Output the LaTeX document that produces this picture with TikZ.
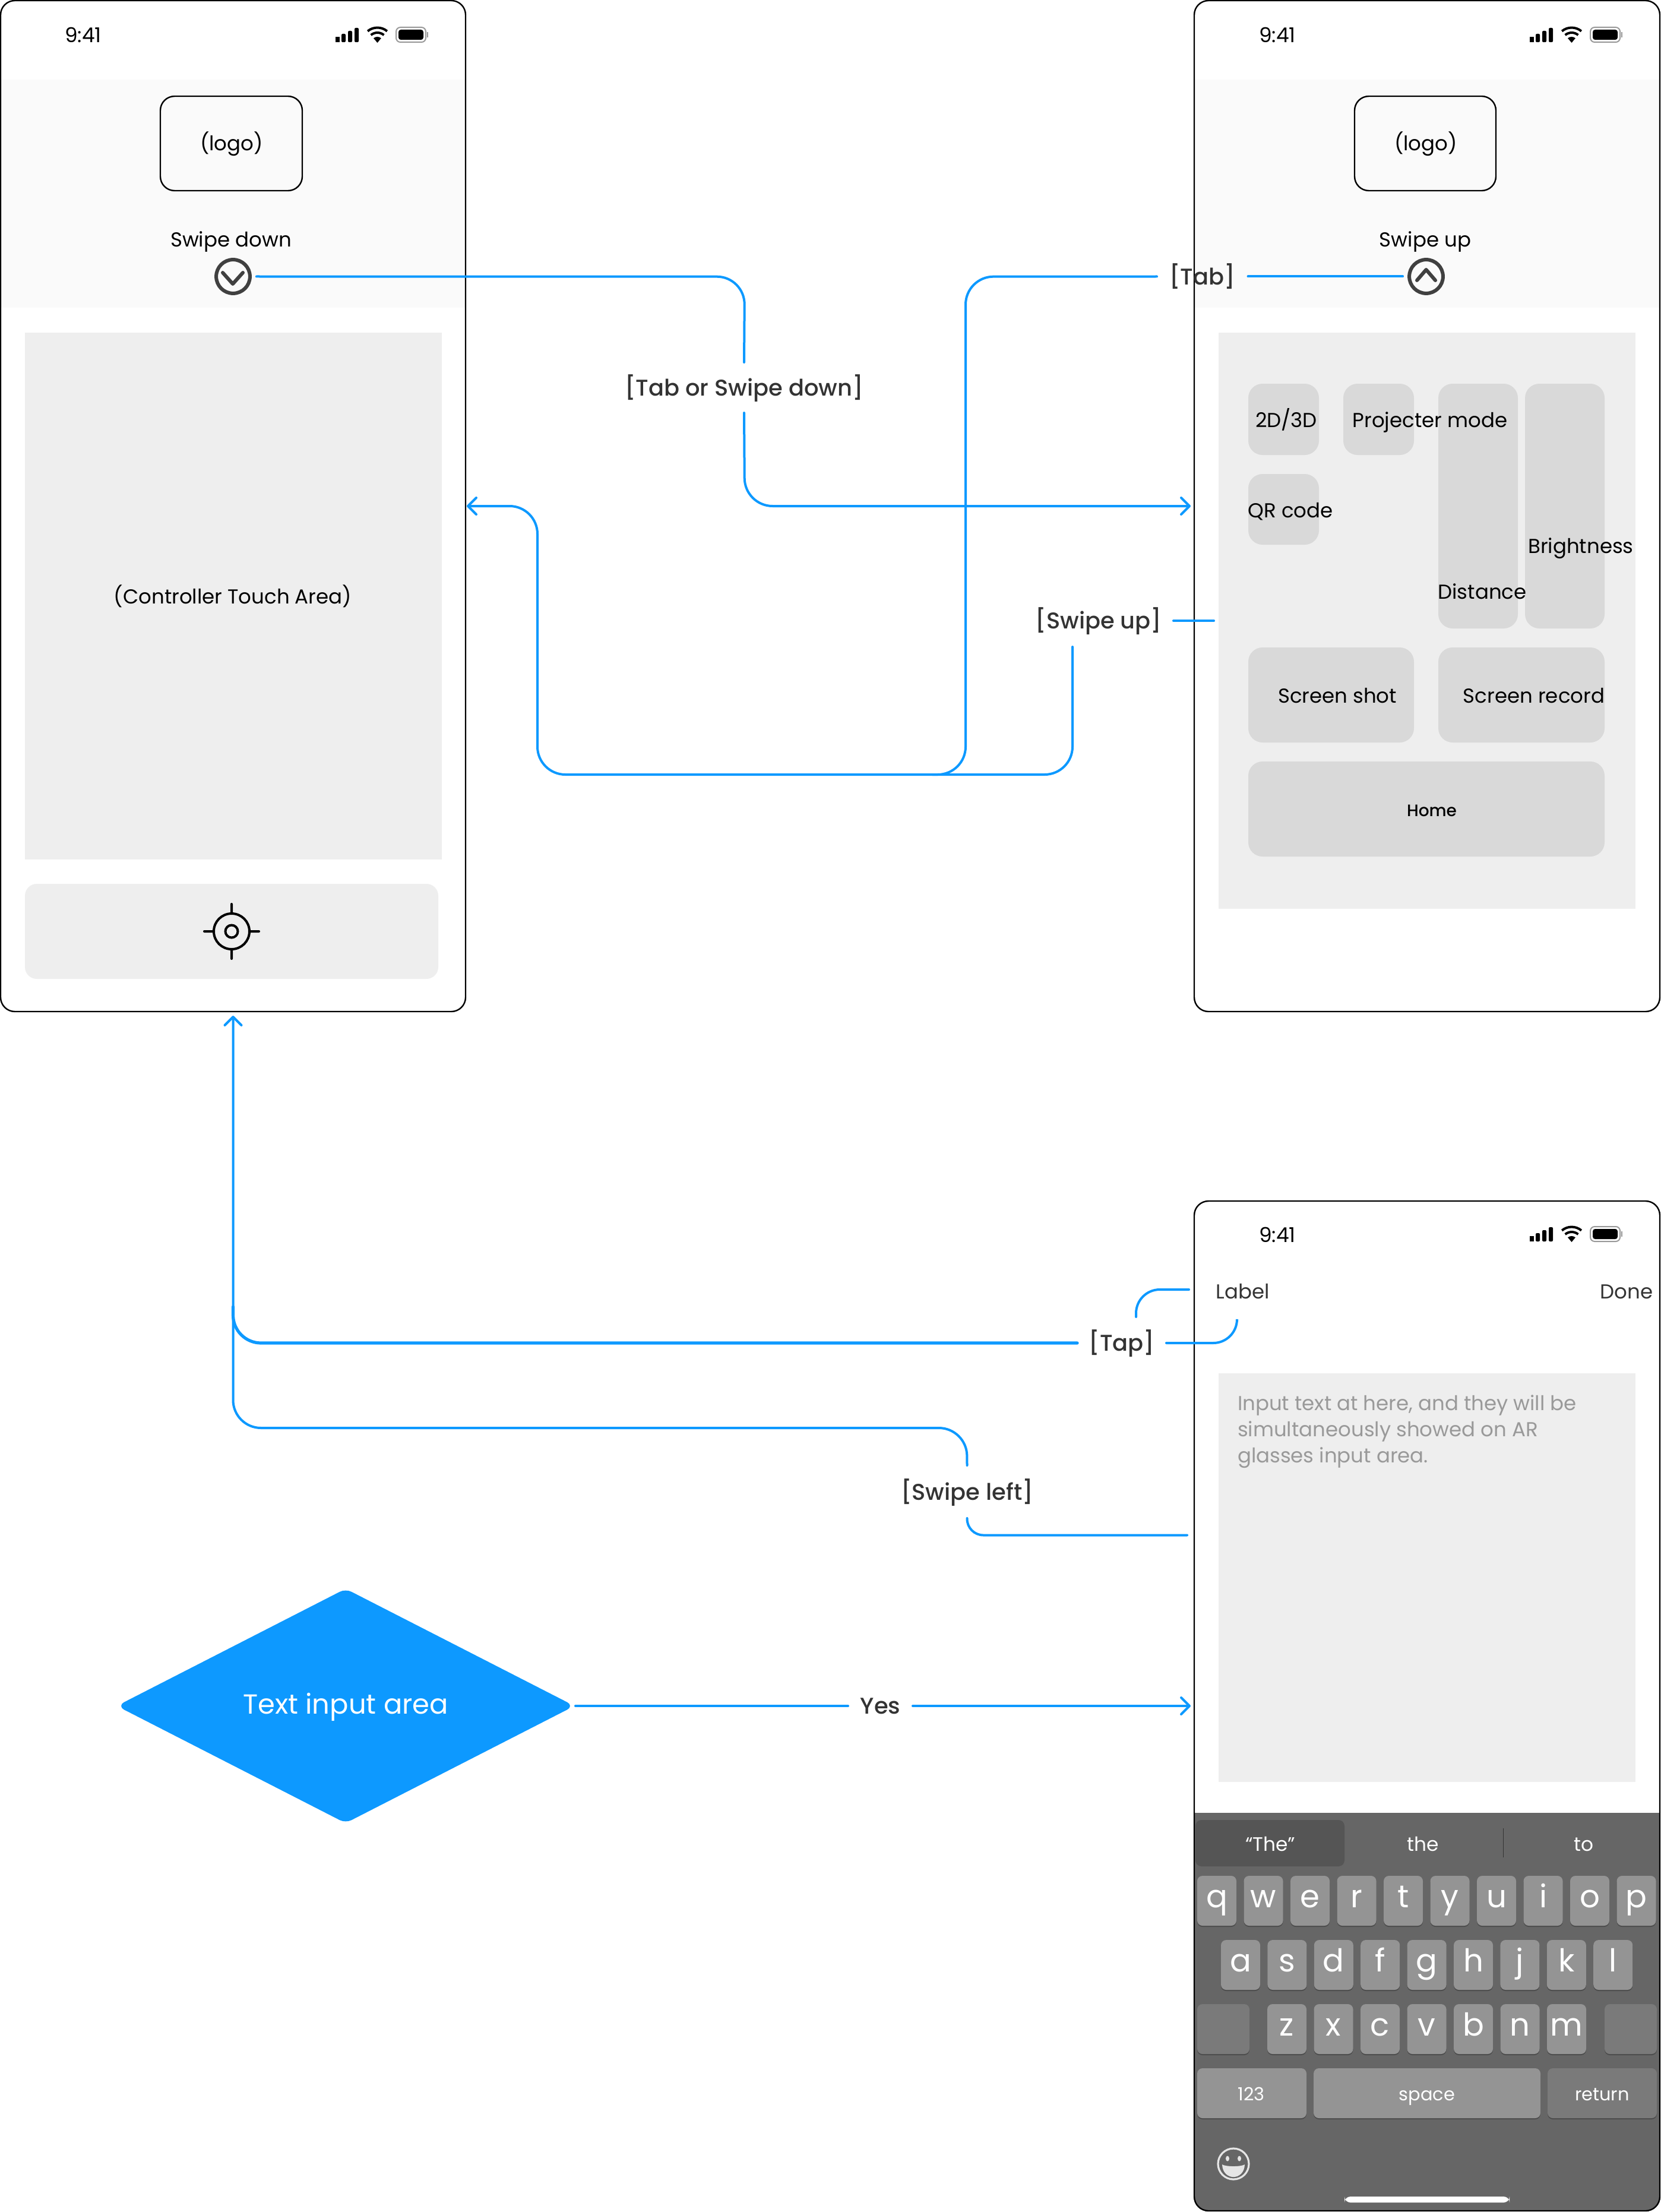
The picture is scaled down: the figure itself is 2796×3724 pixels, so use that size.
\documentclass[tikz,border=0pt]{standalone}
\usepackage{fontspec}
\setmainfont{Poppins}
\newfontfamily\medfont{Poppins Medium}
\usetikzlibrary{arrows.meta,calc,shapes.geometric}
\definecolor{fig}{HTML}{0D99FF}
\definecolor{panel}{HTML}{EEEEEE}
\definecolor{tile}{HTML}{D9D9D9}
\definecolor{hdr}{HTML}{FAFAFA}
\definecolor{ink}{HTML}{333333}
\definecolor{kbd}{HTML}{666666}
\definecolor{keyl}{HTML}{949494}
\definecolor{keyd}{HTML}{7A7A7A}
\definecolor{pill}{HTML}{555555}
\definecolor{holder}{HTML}{999999}
\newcommand\mybox[7][]{%
  \pgfmathsetmacro\myw{(#5-#3)*0.25}\pgfmathsetmacro\myh{(#6-#4)*0.25}%
  \node[rectangle,inner sep=0pt,outer sep=0pt,minimum width=\myw pt,minimum height=\myh pt,#1] (#2) at ({(#3+#5)/2},{(#4+#6)/2}) {#7};}
\newcommand\fs[1]{\fontsize{#1}{#1}\selectfont}
\newcommand\statusbar[2]{%
 \begin{scope}[shift={(#1,#2)}]
  \node[txt,font=\fs{8.6}] (clock#1#2) at (140,59) {9:41};
  \fill (565,62) rectangle (572,71);
  \fill[rounded corners=.5pt] (575,57) rectangle (582,71);
  \fill[rounded corners=.5pt] (586,52) rectangle (593,71);
  \fill[rounded corners=.5pt] (597,47) rectangle (604,71);
  \fill (635.5,72) -- (629,64.3) arc[start angle=-130,end angle=-50,radius=10] -- cycle;
  \draw[line width=1pt] (624.6,59) arc[start angle=-130,end angle=-50,radius=17];
  \draw[line width=1pt] (619.1,52.5) arc[start angle=-130,end angle=-50,radius=25.5];
  \draw[holder,line width=.5pt,rounded corners=1.8pt] (667,46) rectangle (717,71);
  \fill[rounded corners=1pt] (671,50) rectangle (713,67);
  \fill[holder] (719,54) rectangle (721,63);
 \end{scope}}
\tikzset{
  x=0.25pt,y=-0.25pt,
  txt/.style={inner sep=0pt,outer sep=0pt,text height=.85em,text depth=.2em,font=\fs{8.5},text=black},
  phone/.style={rounded corners=6pt},
  tilebox/.style={fill=tile,rounded corners=6pt},
  conn/.style={draw=fig,line width=1pt,rounded corners=11.75pt,line cap=round},
  tip/.style={-{Straight Barb[length=3.5pt,width=7pt,line cap=round,line join=round]}},
  flow/.style={text=ink,font=\medfont\fs{9.6},text height=.88em,text depth=.2em,inner sep=0pt},
  keybox/.style={fill=keyl,rounded corners=2.2pt},
  keytxt/.style={inner sep=0pt,anchor=base,text=white,font=\fs{13.25}},
  smalltxt/.style={inner sep=0pt,anchor=base,text=white,font=\fs{7.6}},
}
\begin{document}
\begin{tikzpicture}
\useasboundingbox (0,0) rectangle (2796,3724);
\fill[white] (0,0) rectangle (2796,3724);
% phones (background)
\mybox[phone,fill=white]{p1}{1}{1}{784}{1703}{}
\mybox[phone,fill=white]{p2}{2011}{1}{2795}{1703}{}
\mybox[phone,fill=white]{p3}{2011}{2022}{2795}{3722}{}
% ---- phone 1
\fill[hdr] (1,134) rectangle (784,518);
\statusbar{0}{0}
\mybox[draw=black,line width=.6pt,rounded corners=6pt,fill=hdr]{logoA}{270}{162}{509}{321}{}
\node[txt] (logoAt) at (390,241) {(logo)};
\node[txt] (swd) at (389,403) {Swipe down};
\node[circle,draw=black!75,line width=1.5pt,inner sep=0pt,outer sep=0pt,minimum size=14.2pt] (cd) at (392.5,465.5) {};
\draw[black!75,line width=1.5pt,line cap=round,line join=round] (375,459) -- (392,478) -- (409,459);
\mybox[fill=panel]{ctrl}{42}{560}{744}{1447}{}
\node[txt] (ctrlt) at (392,1003) {(Controller Touch Area)};
\mybox[fill=panel,rounded corners=5pt]{aim}{42}{1488}{738}{1648}{}
\draw[black,line width=1pt,line cap=round] (390,1568) circle[radius=30] (390,1568) circle[radius=10.5]
  (390,1522) -- (390,1538) (390,1598) -- (390,1614) (344,1568) -- (360,1568) (420,1568) -- (436,1568);
% ---- phone 2
\fill[hdr] (2011,134) rectangle (2795,518);
\statusbar{2011}{0}
\mybox[draw=black,line width=.6pt,rounded corners=6pt,fill=hdr]{logoB}{2281}{162}{2519}{321}{}
\node[txt] (logoBt) at (2401,241) {(logo)};
\node[txt] (swu) at (2400,403) {Swipe up};
\node[circle,draw=black!75,line width=1.5pt,inner sep=0pt,outer sep=0pt,minimum size=14.2pt] (cu) at (2401.5,465.5) {};
\draw[black!75,line width=1.5pt,line cap=round,line join=round] (2386,472) -- (2401.5,454) -- (2417,472);
\mybox[fill=panel]{menu}{2052}{560}{2754}{1530}{}
\mybox[tilebox]{t2d}{2102}{646}{2221}{766}{}
\mybox[tilebox]{tpm}{2262}{646}{2381}{766}{}
\mybox[tilebox]{tqr}{2102}{798}{2221}{917}{}
\mybox[tilebox]{tdi}{2422}{646}{2556}{1058}{}
\mybox[tilebox]{tbr}{2568}{646}{2702}{1058}{}
\mybox[tilebox]{tss}{2102}{1090}{2381}{1250}{}
\mybox[tilebox]{tsr}{2422}{1090}{2702}{1250}{}
\mybox[tilebox]{tho}{2102}{1282}{2702}{1442}{}
\node[txt] (l2d) at (2166,706) {2D/3D};
\node[txt] (lpm) at (2408,706) {Projecter mode};
\node[txt] (lqr) at (2173,858) {QR code};
\node[txt] (ldi) at (2496,995) {Distance};
\node[txt] (lbr) at (2662,918) {Brightness};
\node[txt] (lss) at (2252,1170) {Screen shot};
\node[txt] (lsr) at (2583,1170) {Screen record};
\node[txt,font=\medfont\fs{7}] (lho) at (2411,1361) {Home};
% ---- phone 3
\statusbar{2011}{2019}
\node[txt,text=ink] (lab) at (2093,2173) {Label};
\node[txt,text=ink] (don) at (2739,2173) {Done};
\mybox[fill=panel]{area}{2052}{2312}{2754}{3000}{}
\node[txt,anchor=west,text=holder] (h1) at (2084,2361) {Input text at here, and they will be};
\node[txt,anchor=west,text=holder] (h2) at (2084,2405) {simultaneously showed on AR};
\node[txt,anchor=west,text=holder] (h3) at (2084,2449) {glasses input area.};
\begin{scope}
\clip[rounded corners=6pt] (2011,2022) rectangle (2795,3722);
\fill[kbd] (2011,3052) rectangle (2795,3722);
\end{scope}
\mybox[fill=pill,rounded corners=2.5pt]{pillb}{2013}{3064}{2264}{3142}{}
\node[txt,text=white,font=\fs{8.2}] (sug1) at (2139,3103) {“The”};
\node[txt,text=white,font=\fs{8.2}] (sug2) at (2396,3103) {the};
\node[txt,text=white,font=\fs{8.2}] (sug3) at (2667,3103) {to};
\draw[black!50!kbd,line width=.4pt] (2531.5,3078) -- (2531.5,3127);
% keys
\foreach \ch [count=\i from 0] in {q,w,e,r,t,y,u,i,o,p}{
  \pgfmathsetmacro\kx{2016+78.5*\i}
  \fill[black!70,rounded corners=2.2pt] (\kx,3161) rectangle (\kx+66,3244);
  \mybox[keybox]{k\ch}{\kx}{3158}{\kx+66}{3242}{}
  \node[keytxt] (g\ch) at (\kx+33,3211) {\ch};
}
\foreach \ch [count=\i from 0] in {a,s,d,f,g,h,j,k,l}{
  \pgfmathsetmacro\kx{2056+78.4*\i}
  \fill[black!70,rounded corners=2.2pt] (\kx,3269) rectangle (\kx+66,3352);
  \mybox[keybox]{k\ch}{\kx}{3266}{\kx+66}{3350}{}
  \node[keytxt] (g\ch) at (\kx+33,3319) {\ch};
}
\foreach \ch [count=\i from 0] in {z,x,c,v,b,n,m}{
  \pgfmathsetmacro\kx{2134+78.5*\i}
  \fill[black!70,rounded corners=2.2pt] (\kx,3377) rectangle (\kx+66,3460);
  \mybox[keybox]{k\ch}{\kx}{3374}{\kx+66}{3458}{}
  \node[keytxt] (g\ch) at (\kx+33,3427) {\ch};
}
\fill[black!70,rounded corners=2.2pt] (2016,3377) rectangle (2104,3460);
\mybox[keybox,fill=keyd]{kshift}{2016}{3374}{2104}{3458}{}
\fill[black!70,rounded corners=2.2pt] (2702,3377) rectangle (2790,3460);
\mybox[keybox,fill=keyd]{kback}{2702}{3374}{2790}{3458}{}
\fill[black!70,rounded corners=2.2pt] (2016,3485) rectangle (2200,3568);
\mybox[keybox]{knum}{2016}{3482}{2200}{3566}{}
\fill[black!70,rounded corners=2.2pt] (2212,3485) rectangle (2594,3568);
\mybox[keybox]{kspace}{2212}{3482}{2594}{3566}{}
\fill[black!70,rounded corners=2.2pt] (2606,3485) rectangle (2790,3568);
\mybox[keybox,fill=keyd]{kret}{2606}{3482}{2790}{3566}{}
\node[smalltxt] (g123) at (2107,3536) {123};
\node[smalltxt] (gsp) at (2403,3536) {space};
\node[smalltxt] (gret) at (2698,3536) {return};
% emoji
\draw[black!10,line width=.8pt] (2077,3643) circle[radius=26];
\fill[black!10] (2067,3634) ellipse[x radius=3,y radius=4.5] (2087,3634) ellipse[x radius=3,y radius=4.5];
\fill[black!10] (2058,3644) .. controls (2064,3648) and (2090,3648) .. (2096,3644) .. controls (2095,3672) and (2059,3672) .. (2058,3644) -- cycle;
\mybox[fill=white,rounded corners=2.5pt]{homebar}{2264}{3698}{2542}{3708}{}
% phone outlines
\draw[black,line width=.6pt,rounded corners=6pt] (p1.north west) rectangle (p1.south east);
\draw[black,line width=.6pt,rounded corners=6pt] (p2.north west) rectangle (p2.south east);
\draw[black,line width=.6pt,rounded corners=6pt] (p3.north west) rectangle (p3.south east);
% diamond
\node[diamond,aspect=1.95,fill=fig,draw=fig,line width=1pt,rounded corners=2.5pt,inner sep=0pt,outer sep=0pt,minimum width=190.5pt,minimum height=97.5pt] (dia) at (582,2872) {};
\node[txt,text=white,font=\fs{11.6}] (diat) at (582,2872) {Text input area};
% flow labels (box = gap around the text)
\mybox[flow]{lA}{1052}{610}{1454}{695}{[Tab or Swipe down]}
\mybox[flow]{lT}{1948}{423}{2101.5}{508}{[Tab]}
\mybox[flow]{lSU}{1748}{1001}{1976}{1089}{\hspace*{-6pt}[Swipe up]}
\mybox[flow]{lTap}{1814}{2217}{1964}{2305}{[Tap]}
\mybox[flow]{lSL}{1522}{2467}{1735}{2556}{[Swipe left]}
\mybox[flow]{lY}{1428}{2830}{1537}{2914}{Yes}
% connectors
\coordinate (cdr) at ([xshift=2.75pt]cd.east);
\coordinate (cul) at ([xshift=-2.75pt]cu.west);
\coordinate (p2in) at ([xshift=-1.5pt]p2.west);
\coordinate (p3in) at ([xshift=-1.5pt]p3.west);
\coordinate (p1in) at ([xshift=.5pt]p1.east);
\coordinate (p1up) at ([yshift=-1.75pt]p1.south);
\coordinate (suS) at (1806,1089);
\coordinate (suE) at (2044,1045);
\coordinate (suM) at (1570,1304);
\coordinate (labW) at (2002,2171);
\coordinate (tapN) at (1913,2217);
\coordinate (labS) at (2083,2224);
\coordinate (slE) at (1999,2584.5);
\coordinate (tapM) at (392.5,2200);
\draw[conn] (cdr) -- (1254,465.7) -- (lA.north);
\draw[conn,tip] (lA.south) -- (1254,852) -- (p2in);
\draw[conn] (lT.east) -- (cul);
\draw[conn,tip] (lT.west) -- (1626,465.7) -- (1626,1304) -- (905,1304) -- (905,852) -- (p1in);
\draw[conn] (lSU.east) -- (suE);
\draw[conn] (suS) -- (1806,1304) -- (suM);
\draw[conn,line width=1.3pt] (lTap.west) -- (392.5,2261) -- (tapM);
\draw[conn,rounded corners=10pt] (labW) -- (1913,2171) -- (tapN);
\draw[conn,rounded corners=10pt] (lTap.east) -- (2083,2261) -- (labS);
\draw[conn,tip] (lSL.north) -- (1628,2404) -- (392.5,2404) -- (p1up);
\draw[conn,rounded corners=7pt] (lSL.south) -- (1628,2584.5) -- (slE);
\draw[conn] ([xshift=1.5pt]dia.east) -- (lY.west);
\draw[conn,tip] (lY.east) -- (p3in);
\end{tikzpicture}
\end{document}
